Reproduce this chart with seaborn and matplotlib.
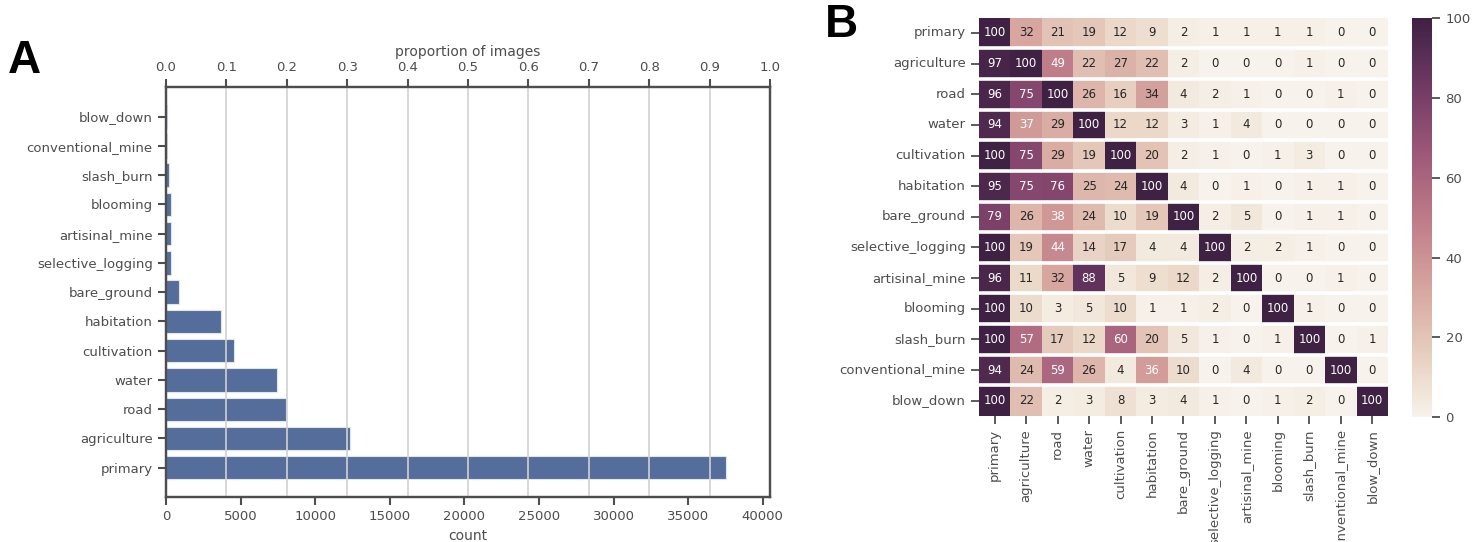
import numpy as np
import pandas as pd
import matplotlib.pyplot as plt
import seaborn as sns

# label counts (panel A), top to bottom
bar_labels = ["blow_down", "conventional_mine", "slash_burn", "blooming",
              "artisinal_mine", "selective_logging", "bare_ground", "habitation",
              "cultivation", "water", "road", "agriculture", "primary"]
bar_counts = [101, 100, 209, 332, 339, 340, 862, 3660, 4547, 7411, 8071, 12315, 37513]
n_images = 40479

# co-occurrence percentages (panel B)
tags = ["primary", "agriculture", "road", "water", "cultivation", "habitation",
        "bare_ground", "selective_logging", "artisinal_mine", "blooming",
        "slash_burn", "conventional_mine", "blow_down"]
row_primary = [100, 32, 21, 19, 12, 9, 2, 1, 1, 1, 1, 0, 0]
row_agriculture = [97, 100, 49, 22, 27, 22, 2, 0, 0, 0, 1, 0, 0]
row_road = [96, 75, 100, 26, 16, 34, 4, 2, 1, 0, 0, 1, 0]
row_water = [94, 37, 29, 100, 12, 12, 3, 1, 4, 0, 0, 0, 0]
row_cultivation = [100, 75, 29, 19, 100, 20, 2, 1, 0, 1, 3, 0, 0]
row_habitation = [95, 75, 76, 25, 24, 100, 4, 0, 1, 0, 1, 1, 0]
row_bare_ground = [79, 26, 38, 24, 10, 19, 100, 2, 5, 0, 1, 1, 0]
row_selective_logging = [100, 19, 44, 14, 17, 4, 4, 100, 2, 2, 1, 0, 0]
row_artisinal_mine = [96, 11, 32, 88, 5, 9, 12, 2, 100, 0, 0, 1, 0]
row_blooming = [100, 10, 3, 5, 10, 1, 1, 2, 0, 100, 1, 0, 0]
row_slash_burn = [100, 57, 17, 12, 60, 20, 5, 1, 0, 1, 100, 0, 1]
row_conventional_mine = [94, 24, 59, 26, 4, 36, 10, 0, 4, 0, 0, 100, 0]
row_blow_down = [100, 22, 2, 3, 8, 3, 4, 1, 0, 1, 2, 0, 100]

sns.set_theme(style="ticks")
plt.rcParams.update({
    "font.family": ["DejaVu Sans"],
    "text.color": "0.3",
    "axes.labelcolor": "0.3",
    "xtick.color": "0.3",
    "ytick.color": "0.3",
    "axes.edgecolor": "0.3",
})

fig = plt.figure(figsize=(14.75, 5.42), dpi=100)

# ---- panel A: bar chart of counts ----
ax = fig.add_axes([0.1125, 0.083, 0.4095, 0.756])
bar_df = pd.DataFrame({"label": bar_labels, "count": bar_counts})
sns.barplot(data=bar_df, x="count", y="label", orient="h", color="#546d9a",
            saturation=1, width=0.8, edgecolor="#dfe5ef", linewidth=0.8, ax=ax)
ax.set_xlim(0, n_images)
ax.set_ylim(len(bar_labels), -1)
ax.set_xticks(np.arange(0, 40001, 5000))
ax.set_xlabel("count", fontsize=10, labelpad=4)
ax.set_ylabel("")
ax.tick_params(axis="both", labelsize=9.5, length=6, width=1.5)
for sp in ax.spines.values():
    sp.set_visible(True)
    sp.set_linewidth(1.6)

ax2 = ax.twiny()
ax2.set_xlim(0, 1)
ax2.set_xticks(np.arange(0, 1.01, 0.1))
ax2.set_xlabel("proportion of images", fontsize=10, labelpad=4)
ax2.grid(axis="x", color="0.82", linewidth=1.2)
ax2.tick_params(axis="x", labelsize=9.5, length=6, width=1.5)
for sp in ax2.spines.values():
    sp.set_linewidth(1.6)

# ---- panel B: co-occurrence heatmap ----
mat = pd.DataFrame([row_primary, row_agriculture, row_road, row_water,
                    row_cultivation, row_habitation, row_bare_ground,
                    row_selective_logging, row_artisinal_mine, row_blooming,
                    row_slash_burn, row_conventional_mine, row_blow_down],
                   index=tags, columns=tags)

heat_cmap = sns.cubehelix_palette(start=0.15, rot=0.4, hue=0.8, light=0.95,
                                  dark=0.18, as_cmap=True)

axh = fig.add_axes([0.6637, 0.2325, 0.2773, 0.7349])
cax = fig.add_axes([0.9573, 0.2306, 0.0138, 0.7355])
sns.heatmap(mat, annot=True, fmt="d", vmin=0, vmax=100, cmap=heat_cmap,
            annot_kws={"size": 8.5}, ax=axh, cbar_ax=cax)
for i in range(1, len(tags)):
    axh.axhline(i, color="white", linewidth=2.6)
axh.tick_params(axis="both", labelsize=9.5, length=6, width=1.3)
axh.set_yticklabels(axh.get_yticklabels(), rotation=0)
axh.set_xticklabels(axh.get_xticklabels(), rotation=90)

cax.tick_params(labelsize=9.5, length=6, width=1.3)
cax.set_yticks(np.arange(0, 101, 20))
cbar = axh.collections[0].colorbar
if cbar is not None:
    cbar.outline.set_visible(False)
for sp in cax.spines.values():
    sp.set_visible(False)

# panel letters
fig.text(0.005, 0.866, "A", fontsize=33, fontweight="bold", color="black",
         family=["Liberation Sans", "DejaVu Sans"])
fig.text(0.559, 0.932, "B", fontsize=33, fontweight="bold", color="black",
         family=["Liberation Sans", "DejaVu Sans"])

fig.savefig("out.png", dpi=100)
